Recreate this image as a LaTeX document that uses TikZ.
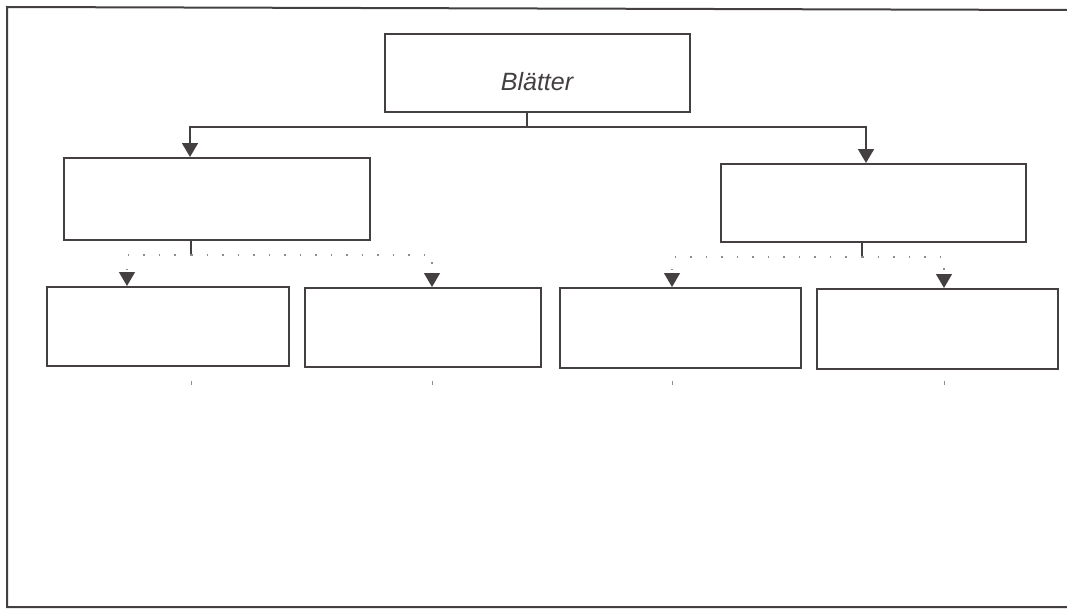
\documentclass[tikz,border=0pt]{standalone}
\usepackage{fontspec}
\setmainfont{Liberation Sans}
\usetikzlibrary{arrows.meta}
\definecolor{ink}{HTML}{444040}
\tikzset{
  box/.style={draw=ink, line width=2pt, minimum width=#1, inner sep=0pt, anchor=north west, fill=white},
  link/.style={draw=ink, line width=1.8pt, -{Triangle[length=14pt,width=16pt]}},
  dlink/.style={draw=ink!60, line width=1.2pt, dash pattern=on 1.5pt off 14pt, -{Triangle[length=14pt,width=16pt,color=ink,fill=ink]}},
  stub/.style={draw=ink, line width=1.8pt},
  tick/.style={draw=ink!60, line width=0.8pt}
}
\begin{document}
\begin{tikzpicture}[x=1pt,y=-1pt]
\useasboundingbox (0,0) rectangle (1067,610);
% frame
\draw[ink, line width=2pt] (1067,10) -- (7,7) -- (7,607) -- (1067,607);
% nodes
\node[box=305pt, minimum height=78pt] (top) at (384,33) {};
\node[font=\itshape\fontsize{25}{30}\selectfont, text=ink] (lbl) at (537,82) {Blätter};
\node[box=306pt, minimum height=82pt] (m1) at (63,157) {};
\node[box=305pt, minimum height=78pt] (m2) at (720,163) {};
\node[box=242pt, minimum height=79pt] (b1) at (46,286) {};
\node[box=236pt, minimum height=79pt] (b2) at (304,287) {};
\node[box=241pt, minimum height=80pt] (b3) at (559,287) {};
\node[box=241pt, minimum height=80pt] (b4) at (816,288) {};
% coordinates
\coordinate (j0) at (527,127);
\coordinate (j1) at (191,255);
\coordinate (j2) at (862,257);
% top connectors
\draw[stub] (top.south -| j0) -- (j0);
\draw[link] (j0) -| (m1.north -| 190,0);
\draw[link] (j0) -| (m2.north -| 866,0);
% mid stubs
\draw[stub] (m1.south -| j1) -- (j1);
\draw[stub] (m2.south -| j2) -- (j2);
% dotted connectors
\draw[dlink] (j1) -| (b1.north -| 127,0);
\draw[dlink] (j1) -| (b2.north -| 432,0);
\draw[dlink] (j2) -| (b3.north -| 672,0);
\draw[dlink] (j2) -| (b4.north -| 944,0);
% small ticks below boxes
\coordinate (t1) at (191,381); \coordinate (t2) at (432,381);
\coordinate (t3) at (672,381); \coordinate (t4) at (944,381);
\foreach \t in {t1,t2,t3,t4} \draw[tick] (\t) -- ++(0,4);
\end{tikzpicture}
\end{document}
